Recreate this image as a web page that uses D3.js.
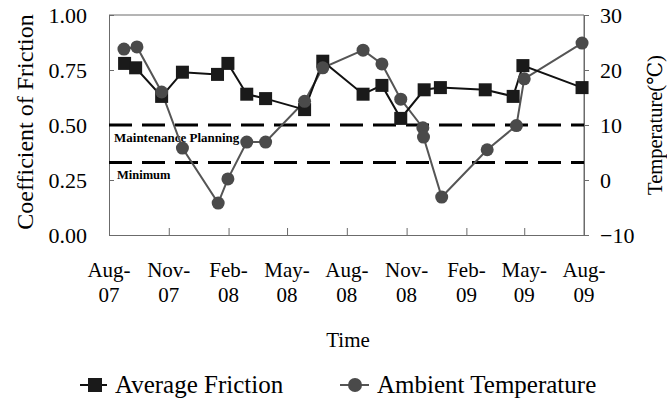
<!DOCTYPE html>
<html>
<head>
<meta charset="utf-8">
<script src="https://cdn.jsdelivr.net/npm/d3@7"></script>
<style>
  body { margin: 0; background: #fff; }
  svg text { font-family: "Liberation Serif", Tinos, "Times New Roman", Times, "DejaVu Serif", serif; fill: #000; }
</style>
</head>
<body>
<div id="chart"></div>
<script>
// friction readings (square markers, left axis)
var frictionDates = ["2007-08-25", "2007-09-11", "2007-10-21", "2007-11-22", "2008-01-15", "2008-01-31",
    "2008-02-29", "2008-03-29", "2008-05-28", "2008-06-25", "2008-08-26", "2008-09-24", "2008-10-23",
    "2008-11-28", "2008-12-23", "2009-03-02", "2009-04-14", "2009-04-29", "2009-07-29"];
var frictionValues = [0.78, 0.76, 0.63, 0.74, 0.73, 0.78, 0.64, 0.62, 0.57, 0.79, 0.64, 0.68, 0.53,
    0.66, 0.67, 0.66, 0.63, 0.77, 0.67];

// ambient temperature (circle markers, right axis)
var tempDates = ["2007-08-24", "2007-09-13", "2007-10-21", "2007-11-22", "2008-01-16", "2008-01-31",
    "2008-02-29", "2008-03-29", "2008-05-28", "2008-06-25", "2008-08-26", "2008-09-24", "2008-10-23",
    "2008-11-26", "2008-11-27", "2008-12-25", "2009-03-05", "2009-04-19", "2009-05-01", "2009-07-29"];
var tempValues = [23.8, 24.2, 16.0, 5.8, -4.2, 0.2, 6.9, 6.9, 14.3, 20.4, 23.6, 21.1, 14.7,
    9.5, 7.8, -3.1, 5.5, 9.9, 18.4, 24.9];

// thresholds
var thresholdValues = [0.5, 0.33];
var thresholdLabels = ["Maintenance Planning", "Minimum"];

// axes
var xTickDates = ["2007-08-01", "2007-11-01", "2008-02-01", "2008-05-01", "2008-08-01",
    "2008-11-01", "2009-02-01", "2009-05-01", "2009-08-01"];
var xTickMonths = ["Aug-", "Nov-", "Feb-", "May-", "Aug-", "Nov-", "Feb-", "May-", "Aug-"];
var xTickYears = ["07", "07", "08", "08", "08", "08", "09", "09", "09"];
var leftTicks = [0, 0.25, 0.5, 0.75, 1];
var rightTicks = [-10, 0, 10, 20, 30];

var parse = d3.timeParse("%Y-%m-%d");
var serif = "'Liberation Serif', Tinos, 'Times New Roman', Times, 'DejaVu Serif', serif";

var W = 667, H = 400;
var pL = 109, pR = 584, pT = 15, pB = 235;

var svg = d3.select("#chart").append("svg")
    .attr("width", W)
    .attr("height", H)
    .attr("font-family", serif);

var xScale = d3.scaleTime()
    .domain([parse(xTickDates[0]), parse(xTickDates[xTickDates.length - 1])])
    .range([pL, pR]);
var yScale = d3.scaleLinear().domain([0, 1]).range([pB, pT]);
var tScale = d3.scaleLinear().domain([-10, 30]).range([pB, pT]);

var axisColor = "#6b6b6b";

// plot frame (top + right)
svg.append("path")
    .attr("d", "M" + pL + "," + pT + "H" + pR + "V" + pB)
    .attr("fill", "none")
    .attr("stroke", axisColor)
    .attr("stroke-width", 1);

// left axis
var yAxis = d3.axisLeft(yScale).tickValues(leftTicks).tickSize(-5).tickFormat(d3.format(".2f"));
var gy = svg.append("g").attr("transform", "translate(" + pL + ",0)").call(yAxis);

// right axis
var tAxis = d3.axisRight(tScale).tickValues(rightTicks).tickSize(5).tickFormat(d3.format("d"));
var gt = svg.append("g").attr("transform", "translate(" + pR + ",0)").call(tAxis);

// bottom axis
var xAxis = d3.axisBottom(xScale).tickValues(xTickDates.map(parse)).tickSize(-7).tickFormat("");
var gx = svg.append("g").attr("transform", "translate(0," + pB + ")").call(xAxis);

[gy, gt, gx].forEach(function (g) {
    g.attr("font-family", serif);
    g.selectAll("path.domain").attr("stroke", axisColor).attr("stroke-width", 1);
    g.selectAll(".tick line").attr("stroke", axisColor);
    g.selectAll(".tick text")
        .attr("font-size", 22)
        .attr("fill", "#000");
});
gy.selectAll(".tick text").attr("x", -22);
gt.selectAll(".tick text").attr("x", 16);

// two-line date labels
xTickDates.forEach(function (d, i) {
    var t = svg.append("text")
        .attr("x", xScale(parse(d)))
        .attr("y", 277)
        .attr("text-anchor", "middle")
        .attr("font-size", 21);
    t.append("tspan").attr("x", xScale(parse(d))).text(xTickMonths[i]);
    t.append("tspan").attr("x", xScale(parse(d))).attr("dy", 25).text(xTickYears[i]);
});

// threshold lines
thresholdValues.forEach(function (v, i) {
    svg.append("line")
        .attr("x1", pL).attr("x2", pR)
        .attr("y1", yScale(v)).attr("y2", yScale(v))
        .attr("stroke", "#000")
        .attr("stroke-width", 3)
        .attr("stroke-dasharray", "23,10");
    svg.append("text")
        .attr("x", pL + 5 + (i === 1 ? 3 : 0))
        .attr("y", yScale(v) + 17)
        .attr("font-size", i === 0 ? 13 : 12.5)
        .attr("font-weight", "bold")
        .text(thresholdLabels[i]);
});

// temperature series
var tempData = tempDates.map(function (d, i) { return { x: parse(d), y: tempValues[i] }; });
var frictionData = frictionDates.map(function (d, i) { return { x: parse(d), y: frictionValues[i] }; });

var tempColor = "#555555", tempFill = "#4a4a4a";
var fricColor = "#111111";

svg.append("path")
    .attr("d", d3.line().x(function (d) { return xScale(d.x); }).y(function (d) { return tScale(d.y); })(tempData))
    .attr("fill", "none")
    .attr("stroke", tempColor)
    .attr("stroke-width", 2);

svg.append("path")
    .attr("d", d3.line().x(function (d) { return xScale(d.x); }).y(function (d) { return yScale(d.y); })(frictionData))
    .attr("fill", "none")
    .attr("stroke", fricColor)
    .attr("stroke-width", 2);

svg.selectAll("rect.fric")
    .data(frictionData)
    .enter().append("rect")
    .attr("class", "fric")
    .attr("x", function (d) { return xScale(d.x) - 6.5; })
    .attr("y", function (d) { return yScale(d.y) - 6.5; })
    .attr("width", 13)
    .attr("height", 13)
    .attr("fill", "#1a1a1a");

svg.selectAll("circle.temp")
    .data(tempData)
    .enter().append("circle")
    .attr("class", "temp")
    .attr("cx", function (d) { return xScale(d.x); })
    .attr("cy", function (d) { return tScale(d.y); })
    .attr("r", 6.5)
    .attr("fill", tempFill);

// axis titles
svg.append("text")
    .attr("transform", "translate(33,122) rotate(-90)")
    .attr("text-anchor", "middle")
    .attr("font-size", 24)
    .text("Coefficient of Friction");

svg.append("text")
    .attr("transform", "translate(662,125) rotate(-90)")
    .attr("text-anchor", "middle")
    .attr("font-size", 20.5)
    .text("Temperature(℃)");

svg.append("text")
    .attr("x", 348)
    .attr("y", 347)
    .attr("text-anchor", "middle")
    .attr("font-size", 21)
    .text("Time");

// legend
var legend = svg.append("g");
legend.append("line").attr("x1", 80).attr("x2", 107).attr("y1", 385).attr("y2", 385)
    .attr("stroke", fricColor).attr("stroke-width", 2);
legend.append("rect").attr("x", 88).attr("y", 378).attr("width", 14).attr("height", 14).attr("fill", "#1a1a1a");
legend.append("text").attr("x", 115).attr("y", 393).attr("font-size", 25).text("Average Friction");

legend.append("line").attr("x1", 340).attr("x2", 369).attr("y1", 385).attr("y2", 385)
    .attr("stroke", tempColor).attr("stroke-width", 2);
legend.append("circle").attr("cx", 355).attr("cy", 385).attr("r", 7).attr("fill", tempFill);
legend.append("text").attr("x", 377).attr("y", 393).attr("font-size", 25).text("Ambient Temperature");
</script>
</body>
</html>
